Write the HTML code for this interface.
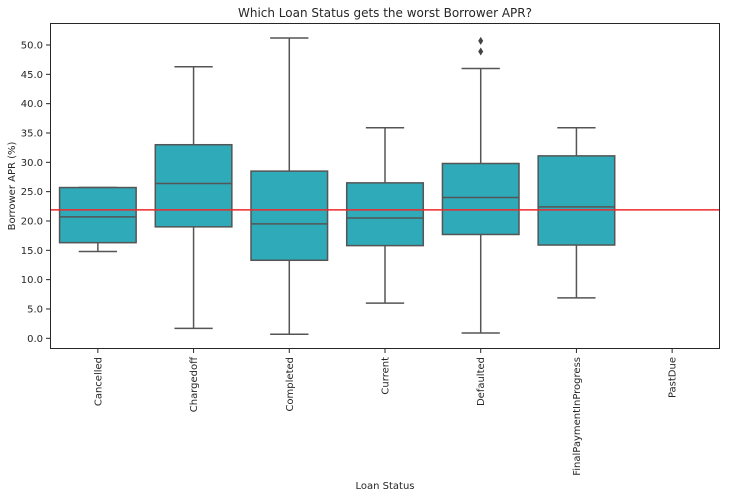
<!DOCTYPE html>
<html><head><meta charset="utf-8"><style>
body{margin:0;background:#fff;}
text{font-family:"DejaVu Sans","Liberation Sans",sans-serif;fill:#262626;}
</style></head><body>
<svg id="chart" width="730" height="498" xmlns="http://www.w3.org/2000/svg">
<text x="385" y="17" font-size="12" text-anchor="middle">Which Loan Status gets the worst Borrower APR?</text>
<text transform="translate(15,186) rotate(-90)" font-size="10" text-anchor="middle">Borrower APR (%)</text>
<text x="385" y="489" font-size="10" text-anchor="middle">Loan Status</text>
<g id="plot"></g>
<rect x="50.5" y="23.5" width="669" height="325" fill="none" stroke="#262626" stroke-width="1"/>
</svg>
<script>
const categories=["Cancelled","Chargedoff","Completed","Current","Defaulted","FinalPaymentInProgress","PastDue"];
const whiskerLow=[14.8,1.7,0.7,6.0,0.9,6.9,null];
const q1=[16.3,19.0,13.3,15.8,17.7,15.9,null];
const medians=[20.7,26.4,19.5,20.5,24.0,22.4,null];
const q3=[25.7,33.0,28.5,26.5,29.8,31.1,null];
const whiskerHigh=[25.7,46.3,51.2,35.9,46.0,35.9,null];
const fliers=[[],[],[],[],[48.9,50.7],[],[]];
const meanLine=21.9;
const yTicks=[0,5,10,15,20,25,30,35,40,45,50];

const NS="http://www.w3.org/2000/svg";
const L=50,R=720,T=23,B=349;
const step=(R-L)/categories.length;
function x(i){return L+step*(i+0.5);}
function y(v){return 338.3-v*5.866;}
const g=document.getElementById('plot');
function mk(tag,attrs,parent){const e=document.createElementNS(NS,tag);for(const k in attrs)e.setAttribute(k,attrs[k]);(parent||g).appendChild(e);return e;}

yTicks.forEach(v=>{
  const t=mk('line',{x1:L-4,x2:L,y1:y(v),y2:y(v),stroke:'#262626'});
  
  
  const tx=mk('text',{x:L-7,y:y(v)+3.5,'font-size':10,'text-anchor':'end'});
  tx.textContent=v.toFixed(1);
  
  
});
const col='#555';
categories.forEach((c,i)=>{
  const cx=x(i),bw=step*0.8;
  const tk=mk('line',{x1:cx,x2:cx,y1:B,y2:B+4,stroke:'#262626'});
  
  
  const lb=mk('text',{transform:`translate(${cx+3.5},${B+8}) rotate(-90)`,'font-size':10,'text-anchor':'end'});
  lb.textContent=c;
  
  
  if(medians[i]===null)return;
  const grp=mk('g',{});
  
  
  mk('line',{x1:cx,x2:cx,y1:y(whiskerHigh[i]),y2:y(q3[i]),stroke:col,'stroke-width':1.5},grp);
  mk('line',{x1:cx,x2:cx,y1:y(q1[i]),y2:y(whiskerLow[i]),stroke:col,'stroke-width':1.5},grp);
  mk('line',{x1:cx-bw/4,x2:cx+bw/4,y1:y(whiskerHigh[i]),y2:y(whiskerHigh[i]),stroke:col,'stroke-width':1.5},grp);
  mk('line',{x1:cx-bw/4,x2:cx+bw/4,y1:y(whiskerLow[i]),y2:y(whiskerLow[i]),stroke:col,'stroke-width':1.5},grp);
  mk('rect',{x:cx-bw/2,y:y(q3[i]),width:bw,height:y(q1[i])-y(q3[i]),fill:'#2eaab9',stroke:col,'stroke-width':1.5},grp);
  mk('line',{x1:cx-bw/2,x2:cx+bw/2,y1:y(medians[i]),y2:y(medians[i]),stroke:col,'stroke-width':1.5},grp);
  fliers[i].forEach(f=>{
    const d=mk('path',{d:`M${cx},${y(f)-4}L${cx+2.5},${y(f)}L${cx},${y(f)+4}L${cx-2.5},${y(f)}Z`,fill:'#444'},grp);
    
    
  });
});
const ml=mk('line',{x1:L,x2:R,y1:y(meanLine),y2:y(meanLine),stroke:'#ee2a2a','stroke-width':1.5});


</script>
</body></html>
